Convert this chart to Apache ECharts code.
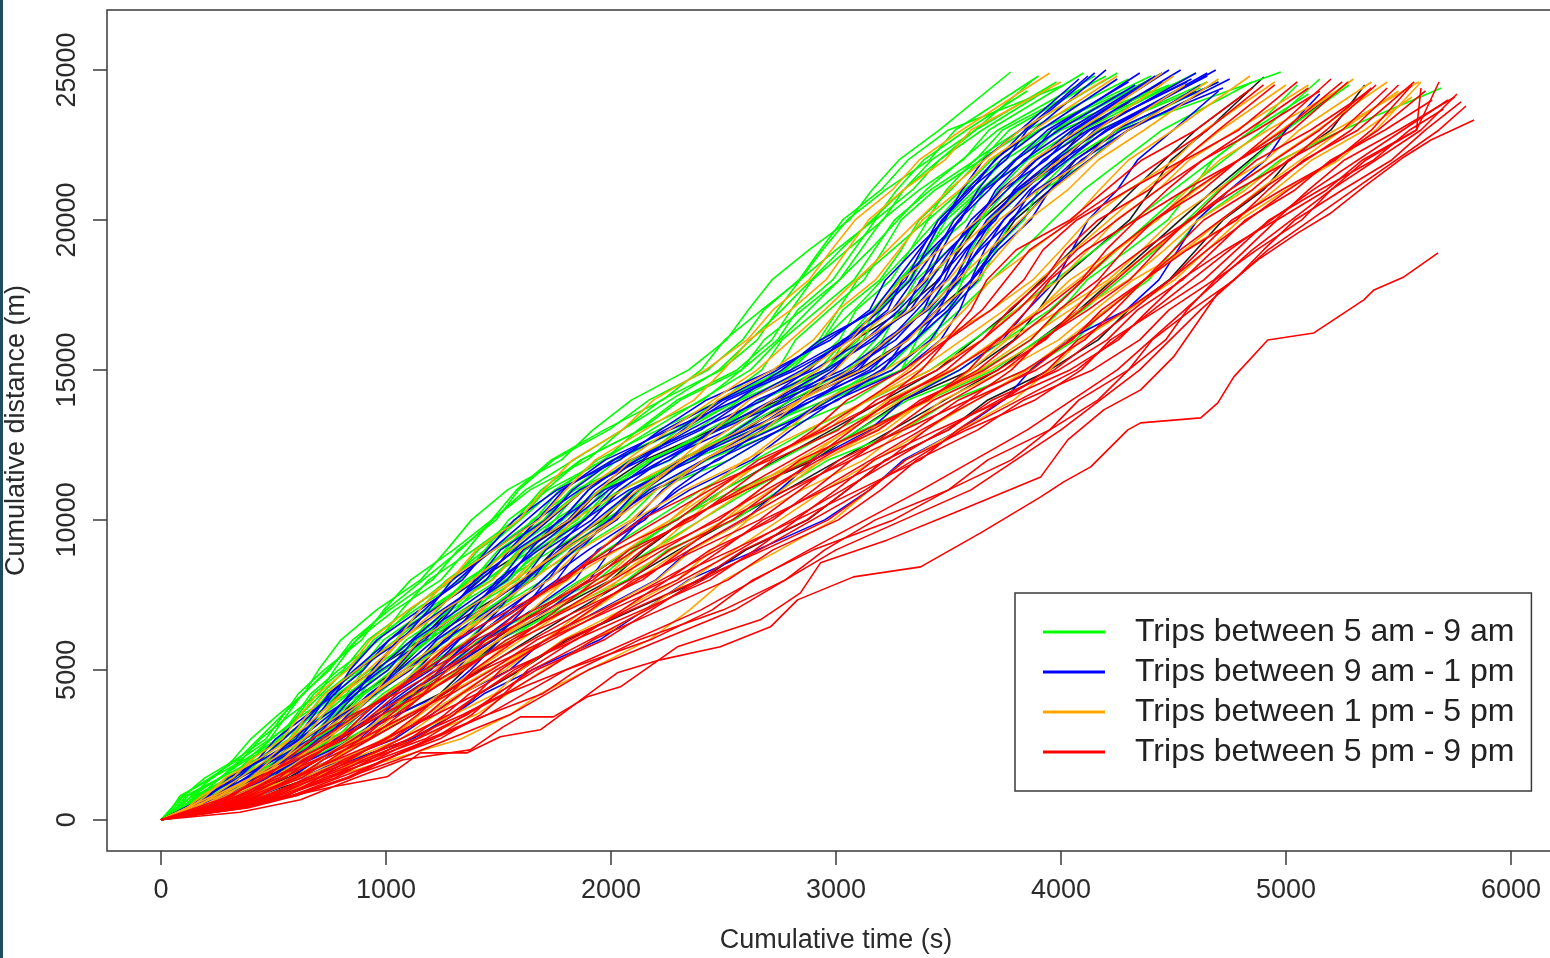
<!DOCTYPE html>
<html><head><meta charset="utf-8">
<script src="https://cdn.jsdelivr.net/npm/echarts@6/dist/echarts.min.js"></script>
<style>html,body{margin:0;padding:0;background:#fff}#c{width:1550px;height:958px}</style>
</head><body><div id="c"></div>
<script>
// ---- tick labels / names ----
const xTicks = [0, 1000, 2000, 3000, 4000, 5000, 6000];
const yTicks = [0, 5000, 10000, 15000, 20000, 25000];
const groupNames = ['Trips between 5 am - 9 am', 'Trips between 9 am - 1 pm', 'Trips between 1 pm - 5 pm', 'Trips between 5 pm - 9 pm'];
const groupColors = ['#00FF00', '#0000FF', '#FFA500', '#FF0000'];

// ---- cumulative distance levels (m); each trip lists its cumulative time (s) at levels[1..] ----
const distLevels = [0,400,800,1400,2000,2700,3500,4200,5000,6000,7000,8000,9000,10000,11000,12000,13000,14000,15000,16000,17000,18000,19000,20000,21000,22000,23000];
const coarseLevels = [0,800,2000,3500,5000,7000,9000,11000,13000,15000,17000,19000,21000,23000];

// Trips between 5 am - 9 am
const greenTimes = [
  [50,85,232,320,400,520,635,700,800,958,1154,1270,1380,1540,1780,1920,2092,2345,2513,2610,2715,2880,3060,3160,3280,3460],
  [60,100,195,330,467,545,610,725,892,990,1110,1300,1470,1580,1735,1970,2230,2400,2505,2670,2840,2940,3050,3220,3415,3530],
  [70,110,265,350,485,560,630,750,852,1015,1207,1320,1490,1590,1745,1990,2170,2430,2585,2680,2835,2930,3030,3200,3320,3500],
  [75,120,270,360,442,575,702,770,870,1040,1245,1360,1470,1640,1895,2050,2225,2490,2650,2740,2840,3000,3170,3270,3390,3580],
  [85,135,227,370,520,600,665,790,970,1070,1190,1390,1575,1690,1865,2130,2410,2580,2680,2850,3015,3110,3205,3370,3565,3680],
  [95,150,305,390,530,610,680,810,920,1100,1300,1410,1595,1710,1870,2130,2310,2580,2740,2830,2985,3080,3175,3340,3460,3650],
  [100,160,317,405,487,630,770,840,945,1130,1330,1440,1545,1720,1970,2120,2295,2560,2715,2800,2895,3050,3210,3300,3425,3620],
  [110,170,265,420,570,650,725,860,1045,1150,1270,1470,1660,1770,1940,2210,2490,2670,2760,2920,3080,3170,3260,3420,3620,3740],
  [115,180,340,430,577,665,742,880,990,1180,1385,1500,1700,1820,2005,2290,2485,2780,2940,3030,3195,3290,3370,3510,3640,3850],
  [120,190,352,445,532,680,825,900,1010,1200,1410,1530,1650,1840,2125,2300,2485,2770,2925,3010,3095,3250,3405,3490,3615,3820],
  [130,205,300,455,612,700,785,930,1120,1230,1355,1560,1750,1860,2030,2300,2570,2740,2820,2970,3125,3210,3290,3440,3645,3770],
  [140,220,380,470,625,720,805,950,1065,1260,1470,1590,1785,1900,2085,2380,2575,2870,3015,3090,3245,3330,3410,3560,3690,3900],
  [150,230,392,485,580,735,887,970,1090,1290,1500,1620,1750,1960,2265,2460,2665,2970,3120,3200,3280,3430,3580,3660,3790,4000],
  [160,245,342,500,662,755,842,990,1190,1310,1440,1650,1850,1970,2165,2470,2765,2960,3040,3190,3335,3410,3490,3640,3850,3980],
  [165,255,420,515,672,770,860,1010,1135,1340,1550,1670,1870,1990,2180,2480,2665,2950,3100,3180,3325,3400,3475,3620,3750,3960],
  [170,265,432,530,630,790,950,1040,1165,1370,1585,1710,1835,2040,2350,2550,2755,3060,3205,3280,3355,3500,3645,3720,3850,4060],
  [180,280,382,545,712,810,905,1060,1270,1400,1530,1740,1955,2090,2305,2630,2955,3170,3240,3380,3525,3600,3675,3820,4035,4170],
  [190,300,467,565,730,835,937,1100,1230,1440,1655,1780,1995,2130,2350,2680,2900,3220,3355,3420,3560,3630,3700,3840,3965,4170],
  [200,315,485,585,692,860,1030,1130,1265,1480,1700,1830,1970,2190,2525,2750,2970,3290,3430,3500,3565,3700,3835,3900,4035,4250],
  [210,330,435,600,775,880,985,1150,1365,1500,1635,1850,2065,2200,2425,2760,3080,3290,3360,3500,3640,3710,3780,3920,4130,4260],
  [215,330,530,650,860,1000,1120,1320,1500,1780,2070,2250,2550,2750,2965,3300,3515,3850,4065,4200,4390,4500,4610,4800,4975,5250],
  [195,300,495,620,750,950,1140,1250,1415,1680,1940,2100,2280,2550,2885,3100,3320,3650,3865,4000,4115,4300,4475,4580,4675,4850]
];
const greenEnds = [
  [3776,24933],[3900,24800],[4012,24500],[3850,24300],[4100,24900],[3950,24400],
  [3880,24700],[4200,24800],[4300,24700],[4250,24900],[4150,24600],[4400,24800],
  [4480,24500],[4450,24900],[4400,24300],[4550,24700],[4620,24400],[4650,24600],
  [4700,24600],[4977,24933],[5690,24400],[5050,24500]
];
const greenCoarse = [
  [95,340,540,740,1000,1330,1620,2050,2480,2760,3020,3300,3620],
  [140,380,620,820,1110,1440,1750,2180,2620,2880,3150,3400,3720],
  [175,440,670,890,1200,1540,1870,2330,2800,3080,3330,3570,3900],
  [210,480,720,960,1280,1620,1950,2430,2920,3160,3400,3640,3960],
  [250,520,780,1030,1360,1700,2050,2560,3050,3300,3530,3760,4100],
  [290,560,840,1100,1450,1800,2160,2700,3250,3550,3830,4100,4450],
  [280,600,950,1250,1650,2080,2500,3000,3550,3950,4250,4550,4900],
  [260,560,880,1180,1580,1980,2400,2880,3420,3800,4150,4500,4850],
  [320,660,1020,1330,1750,2180,2620,3120,3700,4100,4420,4700,5000]
];
const greenCoarseEnds = [[3980,24600],[4150,24800],[4350,24500],[4400,24700],[4600,24900],[4850,24600],[5150,24700],[5100,24200],[5280,24500]];

// Trips between 9 am - 1 pm
const blueTimes = [
  [130,200,345,430,510,650,775,840,960,1150,1340,1450,1570,1760,2040,2220,2425,2720,2975,3150,3220,3350,3485,3560,3655,3820],
  [135,215,302,450,600,680,745,870,1070,1190,1295,1480,1675,1790,1975,2260,2560,2760,2930,3180,3310,3380,3455,3590,3755,3850],
  [145,230,385,470,615,700,770,900,1015,1210,1405,1510,1710,1830,2015,2300,2500,2800,3040,3200,3330,3400,3470,3600,3705,3880],
  [150,240,400,490,580,730,870,940,1055,1250,1445,1550,1670,1860,2140,2320,2520,2820,3065,3230,3295,3420,3555,3630,3735,3910],
  [160,255,350,505,667,760,840,980,1175,1290,1395,1580,1780,1900,2090,2380,2680,2880,3030,3260,3385,3450,3525,3660,3845,3960],
  [170,270,430,520,680,780,865,1010,1125,1320,1510,1610,1810,1930,2115,2400,2600,2900,3130,3280,3405,3470,3545,3680,3800,3990],
  [180,285,447,540,640,800,955,1040,1155,1350,1540,1640,1770,1970,2260,2450,2650,2950,3170,3310,3375,3500,3635,3710,3835,4030],
  [190,300,400,560,730,830,925,1080,1275,1390,1495,1680,1885,2010,2195,2480,2785,2990,3125,3340,3460,3520,3600,3740,3935,4060],
  [195,310,477,575,742,850,950,1110,1225,1420,1610,1710,1915,2040,2230,2520,2725,3030,3235,3360,3480,3540,3620,3760,3890,4090],
  [205,325,492,590,700,870,1040,1140,1260,1460,1650,1750,1880,2080,2370,2560,2760,3060,3265,3390,3450,3570,3710,3790,3920,4120],
  [215,340,445,610,790,900,1005,1170,1375,1500,1605,1790,1995,2120,2310,2600,2900,3100,3215,3410,3530,3590,3670,3810,4015,4150],
  [225,355,525,625,802,920,1030,1200,1325,1530,1720,1820,2025,2150,2340,2630,2830,3130,3320,3430,3550,3610,3695,3840,3975,4180],
  [235,370,542,645,767,950,1130,1240,1365,1570,1760,1860,1990,2190,2480,2670,2870,3170,3355,3460,3520,3640,3785,3870,4005,4210],
  [245,385,495,665,857,980,1095,1270,1480,1610,1715,1900,2105,2230,2420,2710,3010,3210,3305,3480,3600,3660,3745,3890,4100,4240],
  [255,400,580,690,880,1010,1130,1310,1440,1650,1840,1940,2150,2280,2465,2750,2950,3250,3420,3510,3630,3690,3775,3920,4060,4270],
  [270,420,605,720,850,1050,1252,1375,1507,1720,1905,2000,2135,2350,2625,2800,3000,3300,3465,3550,3605,3720,3865,3950,4090,4300],
  [290,450,610,850,1120,1300,1435,1650,1950,2150,2345,2650,2950,3150,3300,3550,3747,3865,4027,4290,4435,4520,4605,4750,4910,5000],
  [250,380,630,800,1040,1200,1335,1550,1705,1950,2200,2350,2595,2750,2900,3150,3300,3550,3740,3850,3980,4050,4120,4250,4340,4500]
];
const blueEnds = [
  [4080,24700],[4150,24900],[4200,25000],[4250,24700],[4350,24900],[4330,24500],
  [4420,24800],[4480,25000],[4532,25000],[4560,24600],[4600,24900],[4650,24800],
  [4688,25000],[4700,24600],[4720,24400],[4750,24700],[5150,24200],[4700,24300]
];
const blueCoarse = [
  [210,440,665,860,1170,1470,1780,2240,2740,3170,3370,3580,3840],
  [250,500,750,960,1270,1570,1880,2350,2850,3250,3440,3650,3940],
  [290,550,815,1060,1370,1660,1990,2470,2970,3330,3510,3730,4050],
  [330,600,885,1160,1480,1770,2100,2580,3080,3400,3580,3800,4130],
  [365,640,940,1220,1550,1840,2170,2650,3150,3450,3630,3860,4200],
  [300,620,950,1250,1600,1950,2300,2750,3200,3500,3700,3950,4300]
];
const blueCoarseEnds = [[4120,24800],[4300,24600],[4450,24900],[4580,24700],[4650,24900],[4620,24500]];

// Trips between 1 pm - 5 pm
const orangeTimes = [
  [125,200,285,430,575,650,730,870,1050,1150,1275,1480,1680,1800,1930,2150,2370,2500,2615,2800,2955,3050,3145,3300,3485,3600],
  [150,240,400,490,635,720,805,950,1065,1260,1475,1600,1815,1950,2090,2330,2475,2720,2900,3010,3175,3280,3385,3550,3680,3880],
  [170,270,440,540,635,790,945,1030,1150,1350,1570,1700,1835,2050,2305,2460,2615,2870,3065,3180,3290,3460,3630,3740,3875,4080],
  [185,290,405,580,750,850,945,1100,1305,1430,1570,1790,2010,2150,2315,2580,2840,3000,3125,3330,3500,3610,3725,3900,4105,4240],
  [200,310,500,620,790,900,1005,1170,1295,1500,1725,1860,2090,2240,2410,2680,2845,3110,3320,3450,3625,3740,3855,4030,4165,4370],
  [210,330,525,650,765,940,1115,1220,1360,1580,1810,1950,2100,2330,2605,2780,2950,3220,3435,3570,3690,3870,4050,4170,4300,4500],
  [225,350,485,690,875,990,1105,1280,1505,1650,1800,2030,2265,2420,2595,2870,3145,3320,3465,3690,3875,4000,4120,4300,4505,4640],
  [240,370,585,720,910,1040,1155,1340,1495,1730,1965,2110,2345,2500,2680,2960,3140,3420,3650,3800,3990,4120,4245,4430,4570,4780],
  [250,390,615,760,895,1090,1280,1400,1560,1800,2040,2190,2345,2580,2865,3050,3230,3510,3745,3900,4040,4240,4430,4560,4705,4920],
  [270,420,575,800,1015,1150,1275,1460,1710,1880,2035,2270,2505,2660,2850,3140,3420,3600,3760,4000,4210,4360,4495,4690,4910,5060],
  [290,450,685,840,1065,1220,1340,1530,1705,1960,2205,2360,2600,2760,2940,3220,3400,3680,3920,4080,4300,4460,4610,4820,4985,5220],
  [320,500,740,900,1065,1300,1485,1600,1785,2050,2295,2450,2610,2850,3125,3300,3475,3750,3990,4150,4320,4550,4780,4950,5115,5350],
  [350,550,745,1020,1335,1550,1685,1900,2170,2350,2505,2750,2990,3150,3310,3550,3790,3950,4090,4300,4505,4650,4795,5000,5235,5400],
  [115,180,320,400,540,620,695,830,930,1100,1290,1400,1590,1700,1830,2050,2190,2420,2605,2720,2880,2980,3085,3250,3370,3560]
];
const orangeEnds = [
  [4000,24600],[4250,24800],[4450,24900],[4550,24500],[4700,24700],[4840,24800],
  [4950,24600],[5100,24500],[5250,24400],[5380,24600],[5590,24600],[5560,24100],
  [5600,24600],[3950,24900]
];
const orangeCoarse = [
  [230,470,700,920,1220,1550,1880,2260,2650,2950,3230,3500,3820],
  [300,600,880,1140,1470,1830,2200,2630,3060,3400,3680,3960,4300],
  [360,700,1010,1310,1690,2070,2460,2920,3370,3750,4060,4370,4710],
  [430,820,1180,1490,1920,2310,2710,3180,3640,4040,4410,4750,5140],
  [480,900,1400,1700,2150,2550,2950,3400,3850,4200,4550,4880,5250],
  [260,540,820,1080,1420,1780,2120,2520,2920,3250,3540,3830,4160],
  [400,760,1100,1400,1800,2200,2600,3060,3520,3900,4250,4600,4980]
];
const orangeCoarseEnds = [[4200,24700],[4650,24600],[5000,24500],[5450,24600],[5500,24300],[4500,24800],[5300,24700]];

// Trips between 5 pm - 9 pm
const redTimes = [
  [195,300,465,560,670,850,1040,1150,1305,1550,1800,1950,2130,2400,2705,2900,3050,3300,3490,3600,3670,3800,4040,4200,4360,4600],
  [205,320,425,600,790,900,1010,1190,1440,1600,1765,2020,2295,2470,2655,2950,3215,3380,3495,3690,3835,3920,4070,4300,4540,4700],
  [220,340,525,630,820,940,1050,1230,1400,1660,1920,2080,2360,2540,2720,3010,3180,3450,3650,3770,3925,4020,4165,4390,4550,4790],
  [235,360,550,660,785,980,1165,1270,1445,1710,1975,2140,2325,2600,2890,3070,3245,3520,3725,3850,3950,4110,4330,4470,4630,4870],
  [245,380,500,690,895,1020,1130,1310,1580,1760,1935,2200,2480,2660,2840,3130,3410,3590,3715,3920,4090,4200,4335,4550,4790,4950],
  [260,400,600,720,925,1060,1170,1350,1535,1810,2085,2260,2540,2720,2900,3190,3375,3660,3865,3990,4165,4280,4415,4630,4790,5030],
  [275,420,625,750,890,1100,1285,1390,1580,1860,2140,2320,2505,2780,3070,3250,3435,3720,3930,4060,4180,4360,4575,4710,4870,5110],
  [285,440,575,780,1000,1140,1250,1430,1715,1910,2100,2380,2660,2840,3015,3300,3590,3780,3910,4120,4305,4430,4565,4780,5020,5180],
  [300,460,675,810,1030,1180,1290,1470,1670,1960,2250,2440,2720,2900,3070,3350,3545,3840,4050,4180,4370,4500,4635,4850,5010,5250],
  [310,480,700,840,995,1220,1405,1510,1710,2000,2295,2490,2675,2950,3230,3400,3595,3890,4105,4240,4370,4560,4780,4920,5080,5320],
  [325,500,650,870,1105,1260,1370,1550,1845,2050,2250,2540,2820,3000,3170,3450,3745,3940,4075,4290,4485,4620,4760,4980,5220,5380],
  [340,520,750,900,1135,1300,1410,1590,1795,2090,2390,2590,2870,3050,3220,3500,3695,3990,4205,4340,4540,4680,4820,5040,5200,5440],
  [350,540,775,930,1100,1340,1525,1630,1840,2140,2440,2640,2825,3100,3375,3540,3740,4040,4255,4390,4530,4730,4955,5100,5260,5500],
  [365,560,725,960,1210,1380,1490,1670,1970,2180,2385,2680,2965,3150,3310,3580,3885,4090,4220,4430,4635,4780,4925,5150,5390,5550],
  [380,580,825,990,1240,1420,1530,1710,1920,2220,2520,2720,3010,3200,3360,3630,3835,4140,4350,4480,4680,4820,4960,5180,5340,5580],
  [390,600,840,1000,1190,1450,1695,1850,2125,2500,2775,2950,3175,3500,3780,3950,4080,4300,4465,4560,4685,4870,5070,5200,5355,5580],
  [360,560,705,920,1175,1350,1535,1800,2175,2450,2630,2900,3255,3500,3675,3950,4165,4300,4405,4580,4770,4900,5040,5250,5470,5620]
];
const redEnds = [
  [4850,24400],[4950,24500],[5050,24600],[5150,24300],[5200,24700],[5275,24600],
  [5350,24200],[5400,24500],[5450,24400],[5570,24600],[5560,24500],[5650,24000],
  [5750,24100],[5700,23700],[5600,24400],[5680,24600],[5778,23933]
];
const redCoarse = [
  [310,580,870,1170,1580,1990,2440,2930,3340,3650,3860,4250,4650],
  [350,650,960,1250,1690,2110,2570,3040,3490,3810,4070,4430,4830],
  [390,700,1040,1330,1790,2230,2690,3160,3630,3960,4240,4590,4990],
  [430,770,1120,1410,1890,2350,2810,3280,3750,4090,4400,4750,5150],
  [470,830,1200,1490,1980,2470,2930,3380,3870,4210,4530,4890,5290],
  [510,880,1280,1570,2070,2570,3030,3480,3970,4320,4650,5010,5410],
  [550,950,1360,1650,2160,2660,3130,3560,4070,4410,4750,5120,5520],
  [580,1000,1450,1800,2400,2880,3380,3850,4250,4550,4850,5200,5600],
  [600,1050,1550,1900,2550,3000,3600,4000,4350,4620,4920,5300,5680]
];
const redCoarseEnds = [[4900,24500],[5100,24400],[5250,24600],[5380,24400],[5500,24500],[5620,24300],[5720,24000],[5760,24200],[5800,23800]];
// the two slowest evening trips, read point by point [time, distance]
const redSlowTrips = [
  [[0,0],[440,567],[765,1100],[1005,1433],[1152,2233],[1361,2233],[1508,2767],[1686,3000],[2028,4900],[2219,5333],[2486,5767],[2709,6433],[2829,7333],[3078,8100],[3376,8433],[3643,9567],[3910,10767],[4012,11267],[4132,11767],[4297,13000],[4354,13233],[4621,13400],[4697,13900],[4768,14767],[4919,16000],[5124,16233],[5346,17333],[5391,17667],[5524,18100],[5676,18900]],
  [[0,0],[350,250],[620,670],[840,1330],[1076,2000],[1374,2333],[1521,3100],[1597,3433],[1744,3433],[1895,4100],[2042,4433],[2295,5767],[2664,6667],[2842,7567],[2931,8567],[3229,9333],[3523,10233],[3910,11433],[4030,12667],[4190,13667],[4354,14333],[4500,15433],[4697,17567],[4875,18667],[5053,19567],[5200,20233],[5346,21100],[5524,22100],[5644,22667],[5836,23333]]
];

// a few other trips drawn in black (not in the legend)
const otherTimes = [
  [160,250,420,520,695,800,890,1050,1185,1400,1620,1750,1965,2100,2300,2600,2800,3100,3315,3450,3605,3700,3795,3950,4065,4250],
  [225,350,565,700,840,1050,1240,1350,1505,1750,2000,2150,2330,2600,2905,3100,3300,3600,3790,3900,3995,4150,4305,4400,4490,4650],
  [130,200,295,450,610,700,795,950,1155,1280,1410,1620,1825,1950,2150,2450,2750,2950,3085,3300,3455,3550,3645,3800,3985,4100],
  [270,420,675,850,1115,1300,1415,1600,1805,2100,2400,2600,2875,3050,3220,3500,3675,3950,4165,4300,4480,4600,4720,4900,5015,5200]
];
const otherEnds = [[4600,24300],[4901,24767],[4450,24600],[5350,24500]];
const otherCoarse = [
  [300,640,980,1280,1680,2080,2500,2980,3450,3780,4050,4320,4600],
  [380,760,1120,1420,1850,2300,2780,3250,3720,4080,4380,4680,5000]
];
const otherCoarseEnds = [[4850,24400],[5280,24600]];

// ---- build series ----
function buildTrips(times, ends, levels) {
  return times.map((ts, i) => {
    const pts = [[0, 0]];
    ts.forEach((t, j) => pts.push([t, levels[j + 1]]));
    pts.push(ends[i]);
    return pts;
  });
}
function interleave(a, b) {
  const out = [];
  const n = Math.max(a.length, b.length);
  for (let i = 0; i < n; i++) { if (i < a.length) out.push(a[i]); if (i < b.length) out.push(b[i]); }
  return out;
}
const groups = [
  { name: 'other', color: '#1a1a1a', trips: interleave(buildTrips(otherTimes, otherEnds, distLevels), buildTrips(otherCoarse, otherCoarseEnds, coarseLevels)) },
  { name: groupNames[0], color: groupColors[0], trips: interleave(buildTrips(greenTimes, greenEnds, distLevels), buildTrips(greenCoarse, greenCoarseEnds, coarseLevels)) },
  { name: groupNames[1], color: groupColors[1], trips: interleave(buildTrips(blueTimes, blueEnds, distLevels), buildTrips(blueCoarse, blueCoarseEnds, coarseLevels)) },
  { name: groupNames[2], color: groupColors[2], trips: interleave(buildTrips(orangeTimes, orangeEnds, distLevels), buildTrips(orangeCoarse, orangeCoarseEnds, coarseLevels)) },
  { name: groupNames[3], color: groupColors[3], trips: interleave(buildTrips(redTimes, redEnds, distLevels), buildTrips(redCoarse, redCoarseEnds, coarseLevels)).concat(redSlowTrips) }
];
const series = [];
groups.forEach(g => g.trips.forEach(tr => series.push({
  type: 'line', name: g.name, data: tr, showSymbol: false, symbol: 'none',
  lineStyle: { width: 1.6, color: g.color }, itemStyle: { color: g.color },
  animation: false, silent: true
})));

const FONT = '"Liberation Sans", Arial, sans-serif';
const plain = v => String(v);
const chart = echarts.init(document.getElementById('c'), null, { renderer: 'canvas' });
chart.setOption({
  backgroundColor: '#ffffff',
  animation: false,
  grid: { left: 107, top: 10, width: 1458, height: 841, outerBoundsMode: 'none', containLabel: false,
          show: true, borderColor: '#3a3a3a', borderWidth: 1.5, backgroundColor: 'transparent' },
  xAxis: {
    type: 'value', min: -240, max: 6240,
    name: 'Cumulative time (s)', nameLocation: 'middle', nameGap: 76,
    nameTextStyle: { fontSize: 27, color: '#2a2a2a', fontFamily: FONT },
    axisLine: { show: false, onZero: false },
    axisTick: { show: true, inside: false, length: 14, lineStyle: { color: '#3a3a3a', width: 1.5 }, customValues: xTicks },
    axisLabel: { fontSize: 27, color: '#2a2a2a', fontFamily: FONT, margin: 26, customValues: xTicks, formatter: plain },
    splitLine: { show: false }
  },
  yAxis: {
    type: 'value', min: -1040, max: 27000,
    name: 'Cumulative distance (m)', nameLocation: 'middle', nameGap: 77,
    nameTextStyle: { fontSize: 27, color: '#2a2a2a', fontFamily: FONT },
    axisLine: { show: false, onZero: false },
    axisTick: { show: true, inside: false, length: 14, lineStyle: { color: '#3a3a3a', width: 1.5 }, customValues: yTicks },
    axisLabel: { fontSize: 27, color: '#2a2a2a', fontFamily: FONT, margin: 26, rotate: 90, customValues: yTicks, formatter: plain },
    splitLine: { show: false }
  },
  legend: {
    data: groupNames, orient: 'vertical', left: 1015, top: 593,
    padding: [23, 17, 23, 28], itemGap: 8, itemWidth: 62, itemHeight: 3, icon: 'rect',
    borderColor: '#3a3a3a', borderWidth: 1.5, backgroundColor: '#ffffff',
    selectedMode: false,
    textStyle: { fontSize: 32, color: '#222', fontFamily: FONT, padding: [0, 0, 0, 25] }
  },
  graphic: [{ type: 'rect', left: 0, top: 0, shape: { width: 3, height: 958 }, style: { fill: '#1e4d5c' }, silent: true }],
  series: series
});
</script></body></html>
